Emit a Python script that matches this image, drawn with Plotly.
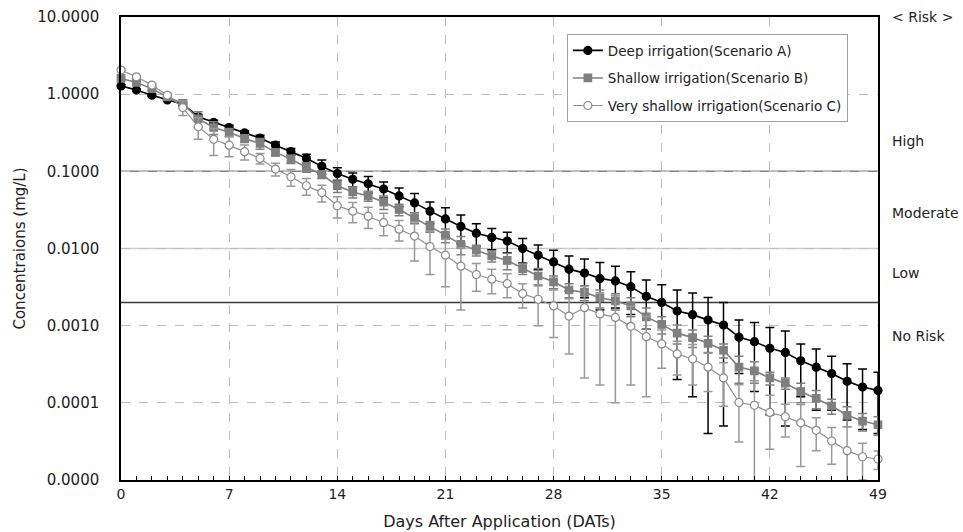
import math
import plotly.graph_objects as go

days = list(range(50))

deep_a = [1.28, 1.13, 0.97, 0.84, 0.74, 0.51, 0.43, 0.37, 0.315, 0.27,
          0.218, 0.18, 0.148, 0.116, 0.0935, 0.079, 0.069, 0.059, 0.048, 0.039,
          0.0305, 0.0242, 0.0193, 0.0158, 0.0139, 0.0125, 0.0100, 0.0082, 0.0067, 0.0054,
          0.0048, 0.0041, 0.0038, 0.0032, 0.0024, 0.0020, 0.00155, 0.00139, 0.00118, 0.00102,
          0.00071, 0.00062, 0.00051, 0.00045, 0.00035, 0.00029, 0.00024, 0.00019, 0.00016, 0.000145]
deep_a_err = [0.05, 0.04, 0.04, 0.03, 0.04, 0.035, 0.03, 0.027, 0.02, 0.024,
              0.022, 0.018, 0.018, 0.024, 0.018, 0.016, 0.017, 0.014, 0.013, 0.0125,
              0.0095, 0.0096, 0.0078, 0.0052, 0.0043, 0.0037, 0.0035, 0.0029, 0.0028, 0.0026,
              0.0025, 0.0025, 0.0021, 0.0018, 0.0015, 0.0014, 0.00135, 0.00127, 0.00114, 0.00097,
              0.00047, 0.00048, 0.00044, 0.0004, 0.00023, 0.00021, 0.00016, 0.00013, 0.000115, 0.000105]

shallow_b = [1.6, 1.42, 1.18, 0.92, 0.76, 0.48, 0.37, 0.32, 0.267, 0.23,
             0.176, 0.144, 0.113, 0.091, 0.065, 0.054, 0.048, 0.040, 0.032, 0.025,
             0.0193, 0.0149, 0.0113, 0.0095, 0.0080, 0.0070, 0.0055, 0.0044, 0.0037, 0.0029,
             0.0027, 0.0023, 0.0021, 0.0018, 0.0013, 0.00104, 0.00080, 0.00070, 0.00059, 0.00048,
             0.00029, 0.00026, 0.00021, 0.00018, 0.00014, 0.000114, 0.000091, 0.000069, 0.000058, 0.000052]
shallow_b_err = [0.08, 0.07, 0.06, 0.05, 0.08, 0.11, 0.07, 0.04, 0.03, 0.037,
                 0.018, 0.018, 0.016, 0.010, 0.012, 0.009, 0.007, 0.008, 0.0055, 0.004,
                 0.003, 0.003, 0.003, 0.0015, 0.0013, 0.0017, 0.0009, 0.0011, 0.0007, 0.0006,
                 0.0006, 0.0006, 0.0005, 0.0005, 0.0004, 0.00026, 0.00022, 0.00018, 0.00014, 0.0001,
                 0.00011, 0.00008, 0.00004, 0.00003, 0.00004, 0.00003, 0.00002, 0.00002, 0.000015, 0.000014]

very_c = [2.05, 1.68, 1.31, 0.97, 0.67, 0.377, 0.26, 0.218, 0.18, 0.147,
          0.107, 0.085, 0.065, 0.053, 0.0358, 0.0305, 0.0262, 0.0216, 0.0178, 0.0145,
          0.0106, 0.0082, 0.0059, 0.0046, 0.0040, 0.0035, 0.0026, 0.0022, 0.0018, 0.00133,
          0.00171, 0.00142, 0.00128, 0.00098, 0.00072, 0.00058, 0.00043, 0.00037, 0.00029, 0.00021,
          0.000101, 0.000093, 0.000075, 0.000066, 0.000055, 0.000044, 0.000032, 0.000024, 0.000020, 0.0000187]
very_c_err = [0.05, 0.05, 0.05, 0.05, 0.14, 0.117, 0.10, 0.064, 0.04, 0.023,
              0.02, 0.021, 0.016, 0.013, 0.011, 0.009, 0.008, 0.007, 0.0053, 0.0076,
              0.006, 0.005, 0.0043, 0.0018, 0.0014, 0.0012, 0.0009, 0.0012, 0.0011, 0.0009,
              0.0015, 0.00125, 0.00118, 0.00081, 0.0006, 0.0003, 0.0002, 0.0002, 0.00015, 0.00012,
              0.00007, 0.0001, 0.00005, 0.00003, 0.00004, 0.00002, 0.000016, 0.000025, 0.00001, 0.000005]

y_tickvals = [0.00001, 0.0001, 0.001, 0.01, 0.1, 1, 10]
y_ticktext = ["0.0000", "0.0001", "0.0010", "0.0100", "0.1000", "1.0000", "10.0000"]
x_tickvals = [0, 7, 14, 21, 28, 35, 42, 49]

risk_lines = [0.1, 0.01, 0.002]
risk_line_colors = ["#808080", "#cccccc", "#3a3a3a"]
risk_labels = ["< Risk >", "High", "Moderate", "Low", "No Risk"]
risk_label_y = [10, 0.25, 0.029, 0.0048, 0.00074]

FONT = "DejaVu Sans"

fig = go.Figure()

series = [
    ("Deep irrigation(Scenario A)", deep_a, deep_a_err, "#000000", "circle", 8, "#000000", "#000000", 1.6, "#000000"),
    ("Shallow irrigation(Scenario B)", shallow_b, shallow_b_err, "#7f7f7f", "square", 7.5, "#7f7f7f", "#7f7f7f", 1.6, "#7f7f7f"),
    ("Very shallow irrigation(Scenario C)", very_c, very_c_err, "#8f8f8f", "circle", 8, "#ffffff", "#8a8a8a", 1.2, "#999999"),
]
for i, (name, vals, errs, lc, sym, ms, mfill, mline, lw, ec) in enumerate(series):
    fig.add_trace(go.Scatter(
        x=days, y=vals, name=name, mode="lines+markers",
        legendgroup=f"g{i}",
        line=dict(color=lc, width=lw),
        marker=dict(symbol=sym, size=ms, color=mfill,
                    line=dict(color=mline, width=1.2)),
        error_y=dict(type="data", array=errs, symmetric=True, color=ec,
                     thickness=1.5, width=4.5),
        cliponaxis=False,
    ))

for val, col in zip(risk_lines, risk_line_colors):
    fig.add_shape(type="line", xref="paper", yref="y", x0=0, x1=1, y0=val, y1=val,
                  line=dict(color=col, width=1.5), layer="below")

for lab, yv in zip(risk_labels, risk_label_y):
    fig.add_annotation(text=lab, xref="paper", yref="y", x=1.016, y=math.log10(yv),
                       xanchor="left", yanchor="middle", showarrow=False,
                       font=dict(family=FONT, size=14, color="#222222"))

fig.update_layout(
    width=963, height=532,
    margin=dict(l=121, r=85, t=17, b=52, autoexpand=False),
    paper_bgcolor="white", plot_bgcolor="white",
    font=dict(family=FONT, size=14, color="#222222"),
    showlegend=True,
    legend=dict(x=0.589, y=0.963, xanchor="left", yanchor="top",
                bordercolor="#a0a0a0", borderwidth=1, bgcolor="white",
                font=dict(family=FONT, size=13.5, color="#222222"),
                tracegroupgap=7, itemwidth=30),
    xaxis=dict(range=[0, 49], tickvals=x_tickvals, showgrid=True,
               gridcolor="#bdbdbd", griddash="dash", gridwidth=1,
               showline=True, linecolor="#000000", linewidth=1.5, mirror=True,
               ticks="inside", ticklen=4, tickcolor="#000000",
               minor=dict(dtick=1, ticks="inside", ticklen=4, tickcolor="#000000", showgrid=False),
               zeroline=False, automargin=False,
               tickfont=dict(family=FONT, size=14),
               title=dict(text="Days After Application (DATs)", standoff=15,
                          font=dict(family=FONT, size=16))),
    yaxis=dict(type="log", range=[-5, 1], tickvals=y_tickvals, ticktext=y_ticktext,
               showgrid=True, gridcolor="#bdbdbd", griddash="dash", gridwidth=1,
               showline=True, linecolor="#000000", linewidth=1.5, mirror=True,
               ticks="", zeroline=False, automargin=False, ticklabelstandoff=17,
               tickfont=dict(family=FONT, size=15),
               title=dict(text="Concentraions (mg/L)", standoff=8,
                          font=dict(family=FONT, size=15))),
)

fig.write_html("out.html", config={"displayModeBar": False},
               post_script="document.body.style.margin='0px';")
